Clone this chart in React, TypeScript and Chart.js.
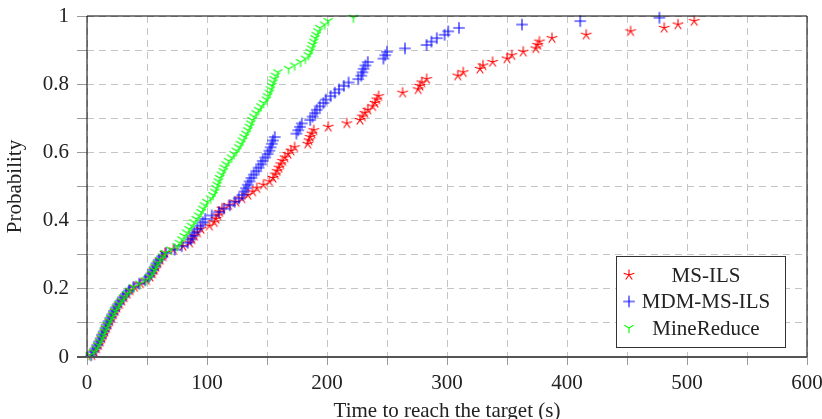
import { useEffect, useRef } from "react";
import { Chart, registerables } from "chart.js";

Chart.register(...registerables);

const seriesNames = ["MS-ILS", "MDM-MS-ILS", "MineReduce"];
const seriesColors = ["#ff0000", "#0000ff", "#00ff00"];
const xTitle = "Time to reach the target (s)";
const yTitle = "Probability";

const probabilities = [
  0.005, 0.015, 0.025, 0.035, 0.045, 0.055, 0.065, 0.075, 0.085, 0.095,
  0.105, 0.115, 0.125, 0.135, 0.145, 0.155, 0.165, 0.175, 0.185, 0.195,
  0.205, 0.215, 0.225, 0.235, 0.245, 0.255, 0.265, 0.275, 0.285, 0.295,
  0.305, 0.315, 0.325, 0.335, 0.345, 0.355, 0.365, 0.375, 0.385, 0.395,
  0.405, 0.415, 0.425, 0.435, 0.445, 0.455, 0.465, 0.475, 0.485, 0.495,
  0.505, 0.515, 0.525, 0.535, 0.545, 0.555, 0.565, 0.575, 0.585, 0.595,
  0.605, 0.615, 0.625, 0.635, 0.645, 0.655, 0.665, 0.675, 0.685, 0.695,
  0.705, 0.715, 0.725, 0.735, 0.745, 0.755, 0.765, 0.775, 0.785, 0.795,
  0.805, 0.815, 0.825, 0.835, 0.845, 0.855, 0.865, 0.875, 0.885, 0.895,
  0.905, 0.915, 0.925, 0.935, 0.945, 0.955, 0.965, 0.975, 0.985, 0.995,
];

const msIlsTimes = [
  4, 6, 8, 9.5, 11, 12.5, 13.5, 15, 16, 17.5, 19, 20.5, 22, 23.5, 25, 27, 29, 31, 33.5, 36,
  39.5, 44.5, 49.5, 52.5, 54.5, 56, 57.5, 59, 61, 63.5,
  65, 72, 80, 85.5, 87.5, 89.5, 92, 95, 102, 106,
  107.5, 109, 110.5, 112.5, 118, 124, 129, 134, 138, 141.5,
  147, 152, 155, 157, 158.5, 160, 161.5, 163, 165, 167.5,
  170, 173, 184, 185, 186, 187.5, 189, 201, 216.5, 227.5,
  229.5, 231.5, 234, 238, 240, 241.5, 243, 263, 276, 277.5,
  279, 283, 309, 313.5, 327.5, 330, 338, 350, 354, 363.5,
  374, 375.5, 377, 387.5, 416, 453, 481, 492.5, 506,
];

const mdmMsIlsTimes = [
  3.5, 5, 7, 8.5, 10, 11.5, 12.5, 14, 15.5, 16.5, 18, 19.5, 21, 22.5, 24, 26, 28, 30, 32.5, 35,
  38.5, 43.5, 48.5, 51.5, 53.5, 55, 56.5, 58, 60, 62.5,
  66, 73, 79, 84, 86.5, 88, 89.5, 92, 94.5, 96.5,
  98.5, 104, 110, 114, 119, 123, 126.5, 129.5, 131, 132.5,
  134, 135.5, 137, 139, 141, 143, 145, 146.5, 148.5, 150.5,
  152, 153, 154, 155, 156.5, 174.5, 176, 177.5, 179, 186,
  188, 190, 191.5, 194, 197, 199, 203, 206.5, 210, 214,
  218, 226, 228.5, 229.5, 230.5, 232, 234, 247, 248.5, 250,
  265, 283, 287, 291.5, 298, 301, 310, 362.5, 411, 477,
];

const mineReduceTimes = [
  2.5, 5.5, 7.5, 9, 10.5, 12, 13, 14.5, 15.5, 17, 18.5, 20, 21.5, 23, 24.5, 26.5, 28.5, 30.5, 33, 35.5,
  39, 44, 49, 52, 54, 55.5, 57, 58.5, 60.5, 63,
  65, 70, 75, 77, 79, 81, 83, 85, 87, 89,
  91, 93, 95, 96.5, 98, 100, 103, 105, 106.5, 107.5,
  108.5, 109.5, 110.5, 112, 113.5, 114.5, 116, 118, 120.5, 122.5,
  124.5, 126.5, 128, 129.5, 131, 132.5, 134, 135.5, 136.5, 137.5,
  139, 141, 143, 145, 147, 149.5, 150.5, 152, 153, 154,
  155, 156, 157, 159, 168, 173, 178, 182, 184.5, 186,
  187, 188, 189, 190, 191, 192.5, 194, 198, 201, 222,
];

const FONT = "'Liberation Serif', 'Times New Roman', serif";

function makeMarker(kind: string, color: string): HTMLCanvasElement {
  const c = document.createElement("canvas");
  c.width = 14;
  c.height = 14;
  const g = c.getContext("2d")!;
  g.strokeStyle = color;
  g.lineWidth = 1.1;
  g.lineCap = "butt";
  const cx = 7, cy = 7;
  g.beginPath();
  if (kind === "star") {
    const r = 5.6;
    for (let k = 0; k < 5; k++) {
      const a = -Math.PI / 2 + (k * 2 * Math.PI) / 5;
      g.moveTo(cx, cy);
      g.lineTo(cx + r * Math.cos(a), cy + r * Math.sin(a));
    }
  } else if (kind === "plus") {
    g.moveTo(cx - 5.8, cy);
    g.lineTo(cx + 5.8, cy);
    g.moveTo(cx, cy - 5.8);
    g.lineTo(cx, cy + 5.8);
  } else {
    const r = 5.3;
    g.moveTo(cx, cy);
    g.lineTo(cx, cy + r);
    g.moveTo(cx, cy);
    g.lineTo(cx - r * 0.866, cy - r * 0.5);
    g.moveTo(cx, cy);
    g.lineTo(cx + r * 0.866, cy - r * 0.5);
  }
  g.stroke();
  return c;
}

export default function App() {
  const ref = useRef<HTMLCanvasElement>(null);

  useEffect(() => {
    const markers = [
      makeMarker("star", seriesColors[0]),
      makeMarker("plus", seriesColors[1]),
      makeMarker("tri", seriesColors[2]),
    ];
    const timesList = [msIlsTimes, mdmMsIlsTimes, mineReduceTimes];
    const datasets = [2, 1, 0].map((s) => ({
      label: seriesNames[s],
      data: timesList[s].map((x, i) => ({ x, y: probabilities[i] })),
      pointStyle: markers[s] as any,
      pointRadius: 4,
      showLine: false,
      clip: false as any,
      borderColor: seriesColors[s],
      backgroundColor: seriesColors[s],
    }));

    const framePlugin = {
      id: "frame",
      afterDraw(chart: any) {
        const { ctx, chartArea: a } = chart;
        ctx.save();
        ctx.strokeStyle = "#000";
        ctx.lineWidth = 1;
        ctx.beginPath();
        ctx.moveTo(a.left, a.bottom);
        ctx.lineTo(a.left, a.top);
        ctx.lineTo(a.right, a.top);
        ctx.lineTo(a.right, a.bottom);
        ctx.stroke();
        ctx.strokeStyle = "#555";
        ctx.lineWidth = 2;
        ctx.beginPath();
        ctx.moveTo(a.left - 10, a.bottom);
        ctx.lineTo(a.right, a.bottom);
        ctx.stroke();

        // legend
        const bw = 169, bh = 91;
        const bx = a.right - 22 - bw;
        const by = a.bottom - 10 - bh;
        ctx.fillStyle = "#fff";
        ctx.fillRect(bx, by, bw, bh);
        ctx.strokeStyle = "#333";
        ctx.lineWidth = 1;
        ctx.strokeRect(bx + 0.5, by + 0.5, bw, bh);
        ctx.font = `21px ${FONT}`;
        ctx.fillStyle = "#222";
        ctx.textAlign = "center";
        ctx.textBaseline = "middle";
        for (let s = 0; s < 3; s++) {
          const ry = by + 19 + s * 26.5;
          ctx.drawImage(markers[s], bx + 13 - 7, ry - 7);
          ctx.fillText(seriesNames[s], bx + 90, ry + 1);
        }
        ctx.restore();
      },
    };

    const font = { family: FONT, size: 21 };

    const chart = new Chart(ref.current!, {
      type: "scatter",
      data: { datasets },
      options: {
        animation: false,
        responsive: false,
        events: [],
        plugins: { legend: { display: false }, tooltip: { enabled: false } },
        layout: { padding: { left: 0, top: 16, right: 15, bottom: 0 } },
        scales: {
          x: {
            type: "linear",
            min: 0,
            max: 600,
            afterFit(s: any) {
              s.height = 62;
              s.paddingLeft = 0;
              s.paddingRight = 0;
            },
            ticks: {
              stepSize: 50,
              autoSkip: false,
              maxRotation: 0,
              color: "#222",
              font,
              padding: 6,
              callback: (v: any) => (Number(v) % 100 === 0 ? String(v) : ""),
            },
            grid: {
              color: "#c4c4c4",
              lineWidth: 1,
              tickLength: 8,
              tickColor: "#9a9a9a",
              tickWidth: 1,
            },
            border: { display: false, dash: [7, 5] },
            title: {
              display: true,
              text: xTitle,
              font,
              color: "#222",
              padding: { top: 0, bottom: -5 },
            },
          },
          y: {
            type: "linear",
            min: 0,
            max: 1,
            afterFit(s: any) {
              s.width = 87;
              s.paddingTop = 0;
              s.paddingBottom = 0;
            },
            ticks: {
              stepSize: 0.1,
              autoSkip: false,
              color: "#222",
              font,
              padding: 8,
              callback: (v: any) => {
                const n = Math.round(Number(v) * 10);
                if (n % 2 !== 0) return "";
                if (n === 0) return "0";
                if (n === 10) return "1";
                return (n / 10).toFixed(1);
              },
            },
            grid: {
              color: "#c4c4c4",
              lineWidth: 1,
              tickLength: 10,
              tickColor: "#9a9a9a",
              tickWidth: 1,
            },
            border: { display: false, dash: [7, 5] },
            title: {
              display: true,
              text: yTitle,
              font,
              color: "#222",
              padding: { top: 3, bottom: 0 },
            },
          },
        },
      },
      plugins: [framePlugin],
    });
    return () => chart.destroy();
  }, []);

  return (
    <div style={{ position: "absolute", left: 0, top: 0, width: 822, height: 419, overflow: "hidden" }}>
      <canvas ref={ref} width={822} height={419} />
    </div>
  );
}
